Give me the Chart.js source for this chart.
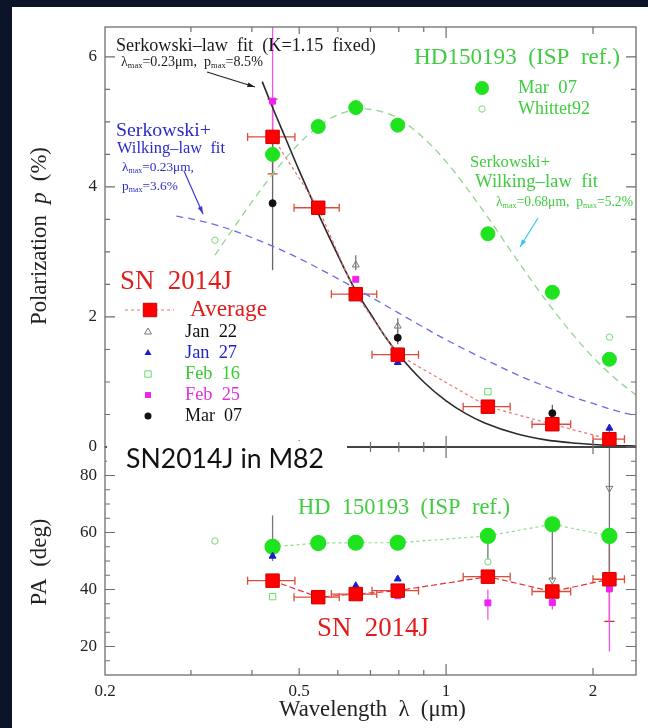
<!DOCTYPE html>
<html><head><meta charset="utf-8">
<script src="https://cdn.jsdelivr.net/npm/chart.js@4.4.1/dist/chart.umd.min.js"></script>
<style>html,body{margin:0;padding:0;background:#0b1527;}canvas{display:block}</style>
</head><body>
<canvas id="c" width="648" height="728"></canvas>
<script>
// ---------------- DATA ----------------
const bands   = [0.441, 0.547, 0.653, 0.796, 1.218, 1.651, 2.161];
const bandLo  = [0.392, 0.488, 0.582, 0.705, 1.084, 1.500, 2.000];
const bandHi  = [0.490, 0.604, 0.721, 0.878, 1.353, 1.800, 2.320];

// Polarization p (%)
const snP     = [4.77, 3.68, 2.35, 1.42, 0.62, 0.35, 0.12];
const snPErr  = [[4.20, 5.35], null, null, null, null, null, [0.00, 0.22]];
const hdP     = [4.50, 4.93, 5.22, 4.95, 3.28, 2.38, 1.35];
const whittetPLam = [0.336, 2.161];
const whittetP    = [3.18, 1.69];

const jan22P = [[0.653, 2.80], [0.796, 1.86], [2.161, 0.18]];
const jan22PErr = [[2.72, 2.95], [1.78, 1.98], [0.00, 0.35]];
const jan27P = [[0.796, 1.30], [2.161, 0.29]];
const feb16P = [[1.218, 0.85]];
const feb25P = [[0.441, 5.32], [0.653, 2.58]];
const feb25PErr = [[4.80, 7.20], null];
const mar07P = [[0.441, 3.75], [0.796, 1.68], [1.651, 0.52]];
const mar07PErr = [[2.72, 4.85], [1.58, 1.80], [0.42, 0.65]];

// fit curves
const serkLam = [0.42, 0.44, 0.47, 0.50, 0.55, 0.60, 0.65, 0.70, 0.75, 0.80, 0.90, 1.0, 1.1, 1.2, 1.4, 1.6, 1.8, 2.0, 2.2, 2.45];
const serkP   = [5.62, 5.24, 4.73, 4.25, 3.55, 2.95, 2.43, 2.05, 1.70, 1.42, 1.00, 0.71, 0.51, 0.37, 0.20, 0.11, 0.065, 0.039, 0.024, 0.014];
const blueLam = [0.28, 0.30, 0.35, 0.40, 0.45, 0.50, 0.60, 0.70, 0.80, 0.90, 1.0, 1.2, 1.4, 1.6, 1.8, 2.0, 2.2, 2.45];
const blueP   = [3.55, 3.51, 3.38, 3.22, 3.06, 2.90, 2.59, 2.31, 2.06, 1.84, 1.65, 1.35, 1.11, 0.93, 0.78, 0.67, 0.57, 0.48];
const greenLam = [0.336, 0.36, 0.40, 0.45, 0.50, 0.55, 0.60, 0.68, 0.75, 0.80, 0.90, 1.0, 1.2, 1.4, 1.6, 1.8, 2.0, 2.2, 2.45];
const greenP   = [2.95, 3.28, 3.77, 4.28, 4.67, 4.94, 5.11, 5.20, 5.14, 5.05, 4.75, 4.39, 3.60, 2.87, 2.26, 1.77, 1.38, 1.08, 0.80];

// Position angle PA (deg)
const snPA    = [43.1, 37.3, 38.4, 39.6, 44.5, 39.3, 43.6];
const snPAErr = [null, null, null, null, null, null, [28.8, 59.0]];
const hdPA    = [55.0, 56.3, 56.4, 56.4, 58.8, 62.9, 58.8];
const hdPAErr = [[50, 66], null, null, null, [50.5, 58.8], null, null];
const whittetPALam = [0.336, 1.218];
const whittetPA    = [57.0, 49.7];

const jan22PA = [[1.651, 43.3], [2.161, 75.5]];
const jan22PAErr = [[43.3, 61.0], [44.0, 92.0]];
const jan27PA = [[0.441, 51.7], [0.653, 41.3], [0.796, 43.7]];
const feb16PA = [[0.441, 37.5]];
const feb25PA = [[0.796, 37.8], [1.218, 35.3], [1.651, 35.4], [2.161, 40.2]];
const feb25PAErr = [null, [29.4, 40.0], [33.0, 38.0], [18.3, 42.0]];

// axes
const xRange = [0.2, 2.45];
const xTickLabels = [0.2, 0.5, 1, 2];
const pRange = [0, 6.46];
const pTickLabels = [0, 2, 4, 6];
const paRange = [10, 90];
const paTickLabels = [20, 40, 60, 80];

// ---------------- helpers ----------------
const SERIF = '"Liberation Serif", "DejaVu Serif", serif';
const GREEN_T = '#3fcc3f', BLUE_T = '#2b2bc8', RED_T = '#e21b1b';
const xy = (xs, ys) => xs.map((x, i) => ({x, y: ys[i]}));
const pts = arr => arr.map(([x, y]) => ({x, y}));

function fontStr(s, size, fam) {
  return (s.it ? 'italic ' : '') + (s.sub ? (size * 0.6).toFixed(2) : size.toFixed(2)) + 'px ' + fam;
}
function measureSegs(ctx, segs, size, fam) {
  let w = 0;
  for (const s of segs) { ctx.font = fontStr(s, size, fam); w += ctx.measureText(s.t).width; }
  return w;
}
function drawRich(ctx, segs, x, y, width, color, fam) {
  fam = fam || SERIF;
  const size = 20 * width / measureSegs(ctx, segs, 20, fam);
  ctx.fillStyle = color; ctx.textBaseline = 'middle'; ctx.textAlign = 'left';
  let cx = x;
  for (const s of segs) {
    ctx.font = fontStr(s, size, fam);
    ctx.fillText(s.t, cx, y + (s.sub ? size * 0.28 : 0));
    cx += ctx.measureText(s.t).width;
  }
}
function drawRotated(ctx, segs, cx, cy, width, color) {
  ctx.save(); ctx.translate(cx, cy); ctx.rotate(-Math.PI / 2);
  drawRich(ctx, segs, -width / 2, 0, width, color, SERIF);
  ctx.restore();
}
function marker(ctx, style, x, y, r, fill, stroke, lw, rot) {
  ctx.save(); ctx.beginPath();
  if (style === 'circle') ctx.arc(x, y, r, 0, Math.PI * 2);
  else if (style === 'rect') { const s = r * Math.SQRT1_2; ctx.rect(x - s, y - s, 2 * s, 2 * s); }
  else if (style === 'triangle') {
    const d = rot ? -1 : 1;
    ctx.moveTo(x, y - d * r); ctx.lineTo(x + r * 0.87, y + d * r * 0.5); ctx.lineTo(x - r * 0.87, y + d * r * 0.5); ctx.closePath();
  }
  if (fill) { ctx.fillStyle = fill; ctx.fill(); }
  if (stroke) { ctx.strokeStyle = stroke; ctx.lineWidth = lw || 1; ctx.stroke(); }
  ctx.restore();
}
function arrow(ctx, x1, y1, x2, y2, color) {
  ctx.save(); ctx.strokeStyle = color; ctx.fillStyle = color; ctx.lineWidth = 1.2;
  ctx.beginPath(); ctx.moveTo(x1, y1); ctx.lineTo(x2, y2); ctx.stroke();
  const a = Math.atan2(y2 - y1, x2 - x1), L = 8;
  ctx.beginPath(); ctx.moveTo(x2, y2);
  ctx.lineTo(x2 - L * Math.cos(a - 0.3), y2 - L * Math.sin(a - 0.3));
  ctx.lineTo(x2 - L * Math.cos(a + 0.3), y2 - L * Math.sin(a + 0.3));
  ctx.closePath(); ctx.fill(); ctx.restore();
}

// error bar sets: [points, errs, yAxis, color, capped]
const vErrSets = [
  [xy(bands, snP), snPErr, 'y', '#e03a2a', true],
  [pts(jan22P), jan22PErr, 'y', '#777', false],
  [pts(feb25P), feb25PErr, 'y', '#ee55ee', false],
  [pts(mar07P), mar07PErr, 'y', '#666', false],
  [xy(bands, snPA), snPAErr, 'yPA', '#e02020', true],
  [xy(bands, hdPA), hdPAErr, 'yPA', '#777', false],
  [pts(jan22PA), jan22PAErr, 'yPA', '#777', false],
  [pts(feb25PA), feb25PAErr, 'yPA', '#ee55ee', false],
];
const hErrSets = [
  [snP, 'y'], [snPA, 'yPA']
];

const deco = {
  id: 'deco',
  beforeDraw(chart) {
    const c = chart.ctx; c.save(); c.fillStyle = '#ffffff'; c.fillRect(12, 7, 636, 721); c.restore();
  },
  beforeDatasetsDraw(chart) {
    const c = chart.ctx, xs = chart.scales.x, yT = chart.scales.y, yB = chart.scales.yPA;
    const L = xs.left, R = xs.right;
    // fit lines need clip to top panel only: handled by scale ranges
    c.save();
    // error bars
    const panels = {y: [yT.top, yT.bottom], yPA: [yB.top, yB.bottom]};
    for (const [p, errs, ax, col, cap] of vErrSets) {
      const ys = chart.scales[ax];
      c.save(); c.beginPath(); c.rect(L, panels[ax][0], R - L, panels[ax][1] - panels[ax][0]); c.clip();
      c.strokeStyle = col; c.lineWidth = 1.3;
      p.forEach((pt, i) => {
        const e = errs[i]; if (!e) return;
        const px = xs.getPixelForValue(pt.x);
        const a = ys.getPixelForValue(e[0]), b = ys.getPixelForValue(e[1]);
        c.beginPath(); c.moveTo(px, a); c.lineTo(px, b);
        if (cap) { c.moveTo(px - 5, a); c.lineTo(px + 5, a); c.moveTo(px - 5, b); c.lineTo(px + 5, b); }
        c.stroke();
      });
      c.restore();
    }
    for (const [vals, ax] of hErrSets) {
      const ys = chart.scales[ax];
      c.strokeStyle = '#e04a3a'; c.lineWidth = 1.3;
      vals.forEach((v, i) => {
        const py = ys.getPixelForValue(v);
        const a = xs.getPixelForValue(bandLo[i]), b = xs.getPixelForValue(bandHi[i]);
        c.beginPath(); c.moveTo(a, py); c.lineTo(b, py);
        c.moveTo(a, py - 4); c.lineTo(a, py + 4); c.moveTo(b, py - 4); c.lineTo(b, py + 4);
        c.stroke();
      });
    }
    c.restore();
  },
  afterDatasetsDraw(chart) {
    const c = chart.ctx, xs = chart.scales.x, yT = chart.scales.y, yB = chart.scales.yPA;
    const L = xs.left, R = xs.right;
    c.save();
    c.strokeStyle = '#6e6e6e'; c.lineWidth = 1.3;
    c.strokeRect(L, yT.top, R - L, yT.bottom - yT.top);
    c.strokeRect(L, yB.top, R - L, yB.bottom - yB.top);
    c.strokeStyle = '#444'; c.lineWidth = 2;
    c.beginPath(); c.moveTo(L, yT.bottom); c.lineTo(R, yT.bottom); c.stroke();
    c.strokeStyle = '#6e6e6e'; c.lineWidth = 1.2;
    // x ticks
    const xMinor = [0.3, 0.4, 0.6, 0.7, 0.8, 0.9, 3];
    const xTicks = xMinor.map(v => [v, 5]).concat([[0.5, 7], [2, 7], [1, 11]]);
    const edges = [[yT.top, 1], [yT.bottom, -1], [yB.top, 1], [yB.bottom, -1]];
    c.beginPath();
    for (const [v, len] of xTicks) {
      if (v > xRange[1]) continue;
      const px = xs.getPixelForValue(v);
      for (const [ey, d] of edges) { c.moveTo(px, ey); c.lineTo(px, ey + d * len); }
    }
    // y ticks, top panel
    for (let v = 0; v <= 6.001; v += 0.5) {
      const py = yT.getPixelForValue(v);
      const len = (Math.abs(v % 2) < 1e-6) ? 10 : 5;
      c.moveTo(L, py); c.lineTo(L + len, py); c.moveTo(R, py); c.lineTo(R - len, py);
    }
    for (let v = 15; v <= 85; v += 5) {
      const py = yB.getPixelForValue(v);
      const len = (v % 20 === 0) ? 10 : 5;
      c.moveTo(L, py); c.lineTo(L + len, py); c.moveTo(R, py); c.lineTo(R - len, py);
    }
    c.stroke();
    c.restore();
  },
  afterDraw(chart) {
    const c = chart.ctx;
    c.save();
    // white patch + panel label
    c.fillStyle = '#ffffff'; c.fillRect(107, 441, 240, 30);
    drawRich(c, [{t: 'SN2014J in M82'}], 126, 459, 198, '#111', 'Lato, "Open Sans", sans-serif');

    // axis titles
    drawRotated(c, [{t: 'Polarization  '}, {t: 'p', it: 1}, {t: '  (%)'}], 40, 236, 178, '#222');
    drawRotated(c, [{t: 'PA  (deg)'}], 40, 562, 87, '#222');
    drawRich(c, [{t: 'Wavelength  λ  (μm)'}], 279, 710, 187, '#222');

    const texts = [
      [[{t: 'Serkowski–law  fit  (K=1.15  fixed)'}], 116, 46, 260, '#1a1a1a'],
      [[{t: 'λ'}, {t: 'max', sub: 1}, {t: '=0.23μm,  p'}, {t: 'max', sub: 1}, {t: '=8.5%'}], 121, 62, 142, '#1a1a1a'],
      [[{t: 'HD150193  (ISP  ref.)'}], 414, 58, 206, GREEN_T],
      [[{t: 'Mar  07'}], 518, 88, 59, GREEN_T],
      [[{t: 'Whittet92'}], 518, 109, 72, GREEN_T],
      [[{t: 'Serkowski+'}], 470, 163, 80, GREEN_T],
      [[{t: 'Wilking–law  fit'}], 475, 182, 123, GREEN_T],
      [[{t: 'λ'}, {t: 'max', sub: 1}, {t: '=0.68μm,  p'}, {t: 'max', sub: 1}, {t: '=5.2%'}], 496, 202, 137, GREEN_T],
      [[{t: 'Serkowski+'}], 116, 131, 95, BLUE_T],
      [[{t: 'Wilking–law  fit'}], 117, 149, 108, BLUE_T],
      [[{t: 'λ'}, {t: 'max', sub: 1}, {t: '=0.23μm,'}], 122, 167, 72, BLUE_T],
      [[{t: 'p'}, {t: 'max', sub: 1}, {t: '=3.6%'}], 122, 186, 56, BLUE_T],
      [[{t: 'SN  2014J'}], 120, 282, 112, RED_T],
      [[{t: 'Average'}], 190, 310, 77, RED_T],
      [[{t: 'Jan  22'}], 185, 332, 52, '#111'],
      [[{t: 'Jan  27'}], 185, 353, 52, '#2222cc'],
      [[{t: 'Feb  16'}], 185, 374, 55, '#33cc33'],
      [[{t: 'Feb  25'}], 185, 395, 55, '#dd33dd'],
      [[{t: 'Mar  07'}], 185, 416, 57, '#111'],
      [[{t: 'HD  150193  (ISP  ref.)'}], 298, 508, 212, GREEN_T],
      [[{t: 'SN  2014J'}], 317, 629, 112, RED_T],
    ];
    for (const [s, x, y, w, col] of texts) drawRich(c, s, x, y, w, col, SERIF);

    // legend markers
    marker(c, 'circle', 482, 88, 7, '#1fe31f', null);
    marker(c, 'circle', 482, 109, 3.2, null, '#7ad87a', 1);
    c.save(); c.strokeStyle = '#f07070'; c.lineWidth = 1.2; c.setLineDash([3, 3]);
    c.beginPath(); c.moveTo(125, 310); c.lineTo(174, 310); c.stroke(); c.restore();
    marker(c, 'rect', 150, 310, 9.5, '#ff0000', '#d00000', 1);
    marker(c, 'triangle', 148, 332, 4, null, '#777', 1);
    marker(c, 'triangle', 148, 353, 4, '#1a1ad0', null);
    marker(c, 'rect', 148, 374, 4.5, null, '#66dd66', 1);
    marker(c, 'rect', 148, 395, 4.2, '#ee22ee', null);
    marker(c, 'circle', 148, 416, 3.5, '#111', null);

    // arrows
    arrow(c, 207, 72, 255, 87, '#222');
    arrow(c, 184, 171, 203, 214, '#3a3ad8');
    arrow(c, 538, 218, 520, 247, '#33c8e8');
    c.restore();
  }
};

const small = (label, data, yAxisID, style, r, fill, stroke, rot) => ({
  label, data: pts(data), yAxisID, showLine: false, pointStyle: style, pointRadius: r,
  pointBackgroundColor: fill || 'rgba(255,255,255,0)', pointBorderColor: stroke || fill,
  pointBorderWidth: 1, pointRotation: rot || 0, order: 3
});

new Chart(document.getElementById('c'), {
  type: 'scatter',
  data: {
    datasets: [
      {label: 'Serkowski fit', data: xy(serkLam, serkP), yAxisID: 'y', showLine: true, pointRadius: 0,
       borderColor: '#2a2a2a', borderWidth: 1.6, cubicInterpolationMode: 'monotone', order: 20},
      {label: 'S+W fit SN', data: xy(blueLam, blueP), yAxisID: 'y', showLine: true, pointRadius: 0,
       borderColor: '#6b6be6', borderWidth: 1.3, borderDash: [7, 5], cubicInterpolationMode: 'monotone', order: 20},
      {label: 'S+W fit HD', data: xy(greenLam, greenP), yAxisID: 'y', showLine: true, pointRadius: 0,
       borderColor: '#8fd68f', borderWidth: 1.3, borderDash: [7, 5], cubicInterpolationMode: 'monotone', order: 20},
      {label: 'HD150193 Mar 07', data: xy(bands, hdP), yAxisID: 'y', showLine: false, pointStyle: 'circle',
       pointRadius: 7, pointBackgroundColor: '#1fe31f', pointBorderColor: '#1fe31f', order: 4},
      {label: 'Whittet92', data: xy(whittetPLam, whittetP), yAxisID: 'y', showLine: false, pointStyle: 'circle',
       pointRadius: 3.2, pointBackgroundColor: 'rgba(255,255,255,0)', pointBorderColor: '#7ad87a', pointBorderWidth: 1, order: 4},
      {label: 'SN 2014J Average', data: xy(bands, snP), yAxisID: 'y', showLine: true, borderColor: '#f07070',
       borderWidth: 1.2, borderDash: [3, 3], pointStyle: 'rect', pointRadius: 9.5, pointBackgroundColor: '#ff0000',
       pointBorderColor: '#d00000', pointBorderWidth: 1, order: 1},
      small('Jan 22', jan22P, 'y', 'triangle', 4, null, '#777'),
      small('Jan 27', jan27P, 'y', 'triangle', 4, '#1a1ad0'),
      small('Feb 16', feb16P, 'y', 'rect', 4.5, null, '#66dd66'),
      small('Feb 25', feb25P, 'y', 'rect', 4.2, '#ee22ee'),
      small('Mar 07', mar07P, 'y', 'circle', 3.5, '#111'),

      {label: 'HD150193 PA', data: xy(bands, hdPA), yAxisID: 'yPA', showLine: true, borderColor: '#90dc90',
       borderWidth: 1.2, borderDash: [3, 3], pointStyle: 'circle', pointRadius: 7.5, pointBackgroundColor: '#1fe31f',
       pointBorderColor: '#1fe31f', order: 4},
      {label: 'Whittet92 PA', data: xy(whittetPALam, whittetPA), yAxisID: 'yPA', showLine: false, pointStyle: 'circle',
       pointRadius: 3.2, pointBackgroundColor: 'rgba(255,255,255,0)', pointBorderColor: '#7ad87a', pointBorderWidth: 1, order: 4},
      {label: 'SN 2014J PA', data: xy(bands, snPA), yAxisID: 'yPA', showLine: true, borderColor: '#e83030',
       borderWidth: 1.2, borderDash: [6, 3], pointStyle: 'rect', pointRadius: 9.5, pointBackgroundColor: '#ff0000',
       pointBorderColor: '#d00000', pointBorderWidth: 1, order: 1},
      small('Jan 22 PA', jan22PA, 'yPA', 'triangle', 4, null, '#777', 180),
      small('Jan 27 PA', jan27PA, 'yPA', 'triangle', 4, '#1a1ad0'),
      small('Feb 16 PA', feb16PA, 'yPA', 'rect', 4.5, null, '#66dd66'),
      small('Feb 25 PA', feb25PA, 'yPA', 'rect', 4.2, '#ee22ee'),
    ]
  },
  options: {
    responsive: false, animation: false, devicePixelRatio: 1,
    layout: {padding: {left: 0, right: 12, top: 27, bottom: 0}},
    plugins: {legend: {display: false}, tooltip: {enabled: false}},
    scales: {
      x: {
        type: 'logarithmic', position: 'bottom', min: xRange[0], max: xRange[1],
        afterBuildTicks: s => { s.ticks = xTickLabels.map(v => ({value: v})); },
        afterFit: s => { s.height = 53; },
        grid: {display: false, drawTicks: false}, border: {display: false},
        ticks: {autoSkip: false, maxRotation: 0, padding: 6, color: '#222',
                font: {family: SERIF, size: 17}, callback: v => String(v)}
      },
      yPA: {
        type: 'linear', position: 'left', stack: 'v', stackWeight: 228, min: paRange[0], max: paRange[1],
        afterBuildTicks: s => { s.ticks = paTickLabels.map(v => ({value: v})); },
        afterFit: s => { s.width = 105; },
        grid: {display: false, drawTicks: false}, border: {display: false},
        ticks: {padding: 8, color: '#222', font: {family: SERIF, size: 17}}
      },
      y: {
        type: 'linear', position: 'left', stack: 'v', stackWeight: 420, min: pRange[0], max: pRange[1],
        afterBuildTicks: s => { s.ticks = pTickLabels.map(v => ({value: v})); },
        afterFit: s => { s.width = 105; },
        grid: {display: false, drawTicks: false}, border: {display: false},
        ticks: {padding: 8, color: '#222', font: {family: SERIF, size: 17}}
      }
    }
  },
  plugins: [deco]
});
</script>
</body></html>
